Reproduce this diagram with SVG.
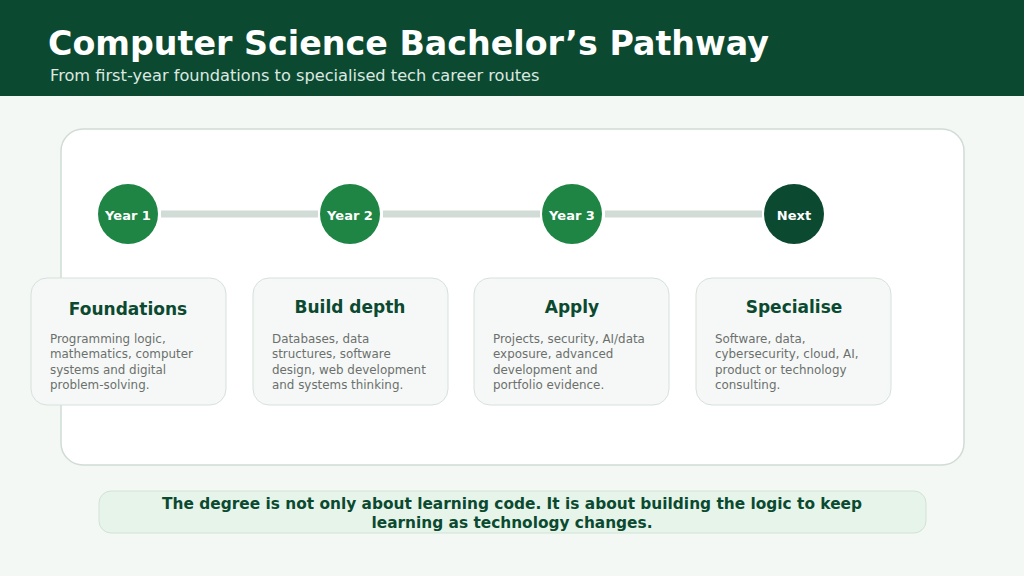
<svg xmlns="http://www.w3.org/2000/svg" width="1024" height="576" viewBox="0 0 1024 576">
<style>
.t{font-family:"DejaVu Sans","Liberation Sans",sans-serif}
.card{fill:#f6f8f7;stroke:#d6e1db;stroke-width:1}
.ct{font-family:"DejaVu Sans",sans-serif;font-weight:bold;font-size:17px;fill:#0b4a30;text-anchor:middle}
.cd{font-family:"DejaVu Sans",sans-serif;font-size:11.9px;fill:#6b706d}
.cl{font-family:"DejaVu Sans",sans-serif;font-weight:bold;font-size:13px;fill:#ffffff;text-anchor:middle}
.conn{stroke:#d0dcd5;stroke-width:7}
</style>
<rect x="0" y="0" width="1024" height="576" fill="#f4f8f5"/>
<g id="header">
<rect x="0" y="0" width="1024" height="96" fill="#0b4a30"/>
<text class="t" x="48" y="55" font-size="33.3" font-weight="bold" fill="#ffffff">Computer Science Bachelor’s Pathway</text>
<text class="t" x="50" y="81" font-size="16.2" fill="#dce8e1">From first-year foundations to specialised tech career routes</text>
</g>
<g id="panel">
<rect x="61" y="129" width="903" height="336" rx="22" fill="#ffffff" stroke="#d0dcd5" stroke-width="1.5"/>
</g>
<g id="connectors">
<line class="conn" x1="161" y1="214" x2="318" y2="214"/>
<line class="conn" x1="383" y1="214" x2="540" y2="214"/>
<line class="conn" x1="605" y1="214" x2="762" y2="214"/>
</g>
<g id="year1">
<circle cx="128" cy="214" r="30" fill="#1e8544"/>
<text class="cl" x="128" y="219.5">Year 1</text>
</g>
<g id="year2">
<circle cx="350" cy="214" r="30" fill="#1e8544"/>
<text class="cl" x="350" y="219.5">Year 2</text>
</g>
<g id="year3">
<circle cx="572" cy="214" r="30" fill="#1e8544"/>
<text class="cl" x="572" y="219.5">Year 3</text>
</g>
<g id="next">
<circle cx="794" cy="214" r="30" fill="#0b4a30"/>
<text class="cl" x="794" y="219.5">Next</text>
</g>
<g id="card-foundations">
<rect class="card" x="31" y="278" width="195" height="127" rx="16"/>
<text class="ct" x="128" y="315">Foundations</text>
<text class="cd" x="50" y="343">Programming logic,</text>
<text class="cd" x="50" y="358">mathematics, computer</text>
<text class="cd" x="50" y="374">systems and digital</text>
<text class="cd" x="50" y="389">problem-solving.</text>
</g>
<g id="card-build">
<rect class="card" x="253" y="278" width="195" height="127" rx="16"/>
<text class="ct" x="350" y="313">Build depth</text>
<text class="cd" x="272" y="343">Databases, data</text>
<text class="cd" x="272" y="358">structures, software</text>
<text class="cd" x="272" y="374">design, web development</text>
<text class="cd" x="272" y="389">and systems thinking.</text>
</g>
<g id="card-apply">
<rect class="card" x="474" y="278" width="195" height="127" rx="16"/>
<text class="ct" x="572" y="313">Apply</text>
<text class="cd" x="493" y="343">Projects, security, AI/data</text>
<text class="cd" x="493" y="358">exposure, advanced</text>
<text class="cd" x="493" y="374">development and</text>
<text class="cd" x="493" y="389">portfolio evidence.</text>
</g>
<g id="card-specialise">
<rect class="card" x="696" y="278" width="195" height="127" rx="16"/>
<text class="ct" x="794" y="313">Specialise</text>
<text class="cd" x="715" y="343">Software, data,</text>
<text class="cd" x="715" y="358">cybersecurity, cloud, AI,</text>
<text class="cd" x="715" y="374">product or technology</text>
<text class="cd" x="715" y="389">consulting.</text>
</g>
<g id="note">
<rect x="99" y="491" width="827" height="42" rx="12" fill="#e6f4ea" stroke="#cfe3d5" stroke-width="1"/>
<text class="t" x="512" y="509" font-size="15" font-weight="bold" fill="#0b4a30" text-anchor="middle" textLength="700" lengthAdjust="spacingAndGlyphs">The degree is not only about learning code. It is about building the logic to keep</text>
<text class="t" x="512" y="528" font-size="15" font-weight="bold" fill="#0b4a30" text-anchor="middle" textLength="281" lengthAdjust="spacingAndGlyphs">learning as technology changes.</text>
</g>
</svg>
